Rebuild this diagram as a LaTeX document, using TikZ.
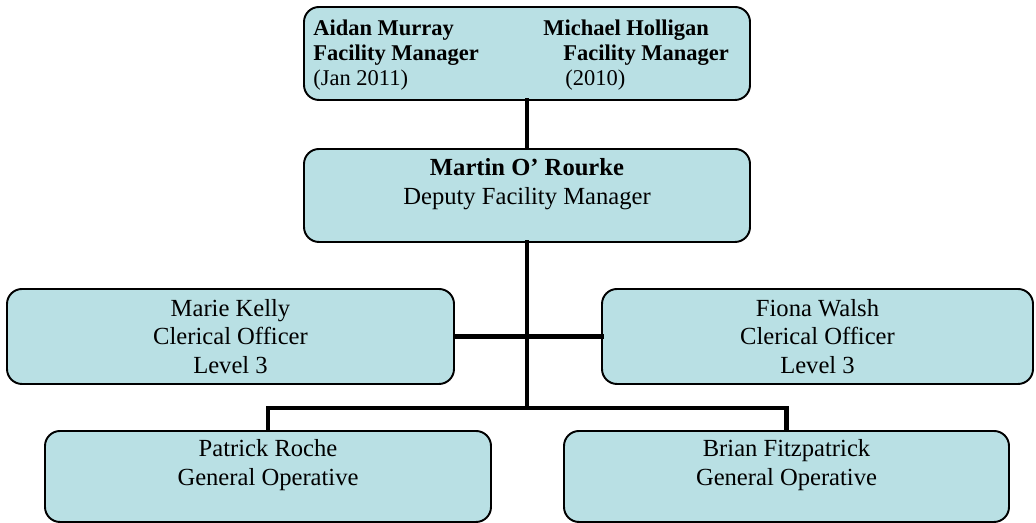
\documentclass[tikz,border=0pt]{standalone}
\usepackage{fontspec}
\setmainfont{Liberation Serif}
\usepackage{xcolor}
\definecolor{boxfill}{RGB}{185,224,228}

\begin{document}
\begin{tikzpicture}[line cap=rect,font=\fontsize{14}{16}\selectfont,
  post/.style={draw,fill=boxfill,rounded corners=0.3cm,line width=1.1pt,align=center,inner sep=0pt},
  heads/.style={anchor=north west,align=left,inner sep=0pt,font=\fontsize{12.8}{14.2}\selectfont},
  link/.style={line width=2.8pt}]
\useasboundingbox (0,0) rectangle (20.72,10.46);
% boxes
\node[post,minimum width=8.92cm,minimum height=1.86cm] (top) at (10.54,9.39) {};
\node[heads] (murray) at (6.26,10.06) {\textbf{Aidan Murray}\\\textbf{Facility Manager}\\(Jan 2011)};
\node[heads] (holligan) at (10.86,10.06) {\textbf{Michael Holligan}\\\hspace*{0.4cm}\textbf{Facility Manager}\\\hspace*{0.44cm}(2010)};
\node[post,minimum width=8.92cm,minimum height=1.86cm] (deputy) at (10.54,6.55) {\textbf{Martin O’ Rourke}\\Deputy Facility Manager\\~};
\node[post,minimum width=8.94cm,minimum height=1.9cm] (kelly) at (4.61,3.73) {Marie Kelly\\Clerical Officer\\Level 3};
\node[post,minimum width=8.62cm,minimum height=1.9cm] (walsh) at (16.35,3.73) {Fiona Walsh\\Clerical Officer\\Level 3};
\node[post,minimum width=8.92cm,minimum height=1.82cm] (roche) at (5.36,0.93) {Patrick Roche\\General Operative\\~};
\node[post,minimum width=8.9cm,minimum height=1.82cm] (fitz) at (15.73,0.93) {Brian Fitzpatrick\\General Operative\\~};
% connectors
\coordinate (split) at (10.54,2.30);
\draw[link] (top) -- (deputy);
\draw[link] (deputy) -- (split);
\draw[link] (kelly) -- (walsh);
\draw[link] (split) -| (roche);
\draw[link] (split) -| (fitz);
\end{tikzpicture}
\end{document}
